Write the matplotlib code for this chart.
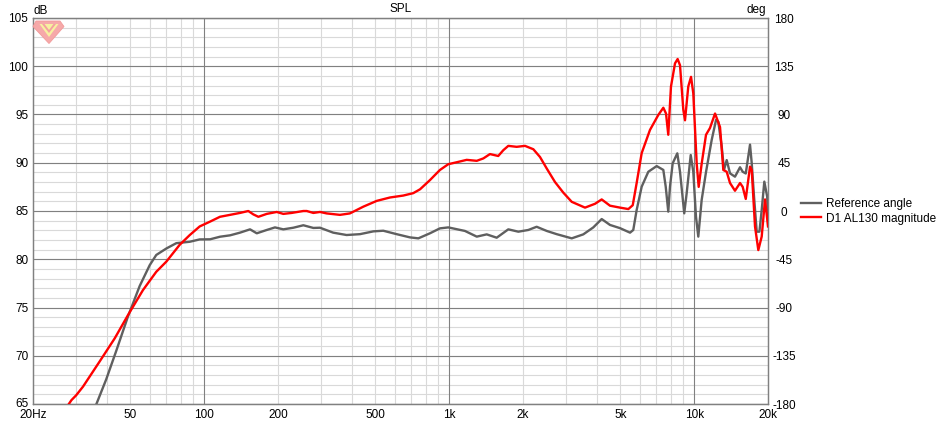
import matplotlib
matplotlib.use('Agg')
import matplotlib.pyplot as plt
from matplotlib.patches import Polygon
from matplotlib.transforms import ScaledTranslation

plt.rcParams['font.family'] = ['Liberation Sans', 'DejaVu Sans']

# ---------------- data ----------------
red_freq = [27.0, 28.7, 30.0, 32.0, 37.4, 43.1, 48.8, 56.2, 63.7, 70.0, 79.4, 87.2, 95.8,
            105.6, 115.9, 127.4, 139.9, 151.3, 158.6, 166.3, 179.9, 197.6, 210.2, 227.4,
            253.8, 262, 278.8, 296.8, 316, 358, 393, 446, 506, 573, 649, 713, 760, 834,
            916, 991, 1072, 1178, 1295, 1378, 1466, 1585, 1662, 1742, 1884, 2038, 2204,
            2346, 2500, 2702, 2922, 3162, 3582, 3937, 4190, 4530, 4978, 5382, 5610, 5820,
            6102, 6596, 7132, 7478, 7670, 7834, 8036, 8346, 8554, 8748, 9022, 9168, 9454,
            9702, 9910, 10234, 10426, 10722, 11170, 11594, 12158, 12742, 13142, 13566,
            13996, 14664, 15378, 15766, 16228, 16890, 17166, 17702, 18260, 18850, 19450,
            20000]
red_db = [64.4, 65.4, 65.9, 66.8, 69.4, 71.8, 74.2, 76.8, 78.7, 79.75, 81.5, 82.5, 83.4,
          83.9, 84.4, 84.6, 84.8, 85.0, 84.65, 84.4, 84.7, 84.9, 84.7, 84.8,
          85.0, 85.0, 84.8, 84.9, 84.75, 84.6, 84.75, 85.45, 86.05, 86.4, 86.6, 86.85, 87.25, 88.2,
          89.25, 89.85, 90.05, 90.3, 90.2, 90.45, 90.9, 90.7, 91.3, 91.75, 91.65, 91.75, 91.4,
          90.6, 89.4, 88.0, 86.9, 85.95, 85.35, 85.75, 86.2, 85.55, 85.35, 85.2, 85.6, 87.9,
          91.0, 93.4, 94.95, 95.7, 95.1, 92.9, 97.9, 100.3, 100.75, 100.1, 95.5, 94.4, 97.9,
          98.9, 97.2, 89.9, 87.5, 89.9, 92.9, 93.6, 95.1, 93.7, 89.25, 89.07,
          87.9, 87.1, 87.9, 87.5, 86.25, 89.6, 89.25, 83.4, 80.95, 82.35, 86.2,
          83.4]

gray_freq = [35.0, 36.3, 39.8, 43.8, 48.8, 54.5, 59.9, 63.7, 70.0, 76.9, 87.2, 95.8, 105.6,
             115.9, 127.4, 139.9, 153.8, 163.8, 179.9, 194.4, 210.2, 231, 253.8, 278.8,
             296.8, 336, 381, 432, 490, 538, 610, 691, 748, 834, 916, 991, 1159, 1295,
             1422, 1562, 1742, 1914, 2102, 2274, 2500, 2745, 3162, 3524, 3872, 4190, 4530,
             4978, 5469, 5638, 5820, 6102, 6494, 7026, 7478, 7648, 7834, 7962, 8166, 8528,
             8748, 9102, 9312, 9674, 9910, 10164, 10388, 10722, 11170, 11780, 12272, 12534,
             12948, 13226, 13566, 13996, 14664, 15378, 15766, 16228, 16890, 17166, 17540,
             17988, 18450, 18850, 19320, 19850, 20000]
gray_deg = [-186, -180, -157, -130, -98.5, -70, -50.5, -41, -35, -30, -28.7, -26.5, -26.4,
            -24, -22.7, -20.2, -17.1, -20.8, -17.7, -15.3, -17.1, -15.6, -13.3, -15.8,
            -15.6, -20.2, -22.4, -21.6, -19, -18.4, -21.6, -24.6, -25.5, -20.8, -16.2, -15.3, -18.6, -23.9,
            -21.8, -24.9, -17.1, -19.3, -17.7, -14.7, -18.6, -21.6, -25.5, -21.8, -15.3, -7.5, -13,
            -16, -20.2, -17.7, 0.9, 22.7, 36.6, 41.9, 38.3, 22.7, -0.6, 22.7, 44.5, 53.8,
            36.6, -2.2, 16.5, 52.2, 36.6, -5.3, -23.9, 10.3, 36.4, 66.2, 84.9, 83.3,
            60, 38.3, 47.5, 35.1, 32, 40.8, 36.6, 35, 61.9, 44.5, 13.3,
            -19.3, -19.3, 0.9, 27.4, 13.3, -8.4]

x_tick_vals = [20, 50, 100, 200, 500, 1000, 2000, 5000, 10000, 20000]
x_tick_labels = ['20Hz', '50', '100', '200', '500', '1k', '2k', '5k', '10k', '20k']
y_ticks_db = [65, 70, 75, 80, 85, 90, 95, 100, 105]
y_ticks_deg = [-180, -135, -90, -45, 0, 45, 90, 135, 180]

series_names = ['Reference angle', 'D1 AL130 magnitude']

# ---------------- figure ----------------
W, H = 937, 423
fig = plt.figure(figsize=(W / 100, H / 100), dpi=100)
L, R, T, B = 33, 768, 18, 404
ax = fig.add_axes([L / W, 1 - B / H, (R - L) / W, (B - T) / H])
ax2 = ax.twinx()
ax.set_zorder(2)
ax2.set_zorder(1)
ax.patch.set_visible(False)
ax2.patch.set_facecolor('white')

ax.set_xscale('log')
ax.set_xlim(20, 20000)
ax.set_ylim(65, 105)
ax2.set_ylim(-180, 180)

MINOR_C = '#d9d9d9'
MAJOR_C = '#808080'

# grid (drawn on the bottom axes so curves sit on top)
for dec in [10, 100, 1000, 10000]:
    for k in range(2, 10):
        f = dec * k
        if 20 < f < 20000:
            ax2.axvline(f, color=MINOR_C, lw=0.8, zorder=0)
for f in [100, 1000, 10000]:
    ax2.axvline(f, color=MAJOR_C, lw=0.8, zorder=0.5)
for d in range(-180, 181, 9):
    ax2.axhline(d, color=MINOR_C, lw=0.8, zorder=0)
for d in y_ticks_deg:
    ax2.axhline(d, color=MAJOR_C, lw=0.8, zorder=0.5)

g_line, = ax2.plot(gray_freq, gray_deg, color='#5f5f5f', lw=1.7, label=series_names[0],
                   solid_joinstyle='round', zorder=2)
r_line, = ax.plot(red_freq, red_db, color='#ff0000', lw=1.7, label=series_names[1],
                  solid_joinstyle='round', zorder=3)

# ticks
ax.set_xticks(x_tick_vals)
ax.set_xticklabels(x_tick_labels)
ax.xaxis.set_minor_locator(matplotlib.ticker.NullLocator())
ax.set_yticks(y_ticks_db)
ax.set_yticklabels([str(v) for v in y_ticks_db])
ax2.set_yticks(y_ticks_deg)
ax2.set_yticklabels([str(v) for v in y_ticks_deg])

FS = 8.5
ax.tick_params(axis='x', length=0, pad=3.8, labelsize=FS)
ax.tick_params(axis='y', length=0, pad=3.3, labelsize=FS)
ax2.tick_params(axis='y', length=0, pad=11.5, labelsize=FS)
for lbl in ax2.get_yticklabels():
    lbl.set_horizontalalignment('center')

# nudge the lowest left label up a little so it clears "20Hz"
lowest = ax.get_yticklabels()[0]
lowest.set_transform(lowest.get_transform() + ScaledTranslation(0, 2 / 100, fig.dpi_scale_trans))

for a in (ax, ax2):
    for s in a.spines.values():
        s.set_color(MAJOR_C)
        s.set_linewidth(0.9)

# titles
fig.text((L + R) / 2 / W, 1 - 8.5 / H, 'SPL', ha='center', va='center', fontsize=FS)
fig.text(34 / W, 1 - 10.5 / H, 'dB', ha='left', va='center', fontsize=FS)
fig.text(766 / W, 1 - 10.5 / H, 'deg', ha='right', va='center', fontsize=FS)

# legend
fig.legend(handles=[g_line, r_line], labels=series_names, loc='upper left',
           bbox_to_anchor=(801 / W, 1 - 198 / H), frameon=False, fontsize=FS,
           handlelength=1.7, handletextpad=0.45, labelspacing=0.22,
           borderaxespad=0, borderpad=0)

# watermark logo (decoration)
def px(pts):
    return [(x / W, 1 - y / H) for x, y in pts]

gem = Polygon(px([(36, 21), (60, 21), (64, 26.5), (49, 43.5), (33, 26.5)]),
              closed=True, transform=fig.transFigure, facecolor='#f6a9a9',
              edgecolor='#f29a9a', lw=0.6, zorder=10)
inner = Polygon(px([(39.5, 24), (58.5, 24), (49, 37)]), closed=True,
                transform=fig.transFigure, facecolor='#f7f0a0', edgecolor='none', zorder=11)
vee = Polygon(px([(42, 24), (49, 33), (56, 24), (53.5, 24), (49, 30), (44.5, 24)]), closed=True,
              transform=fig.transFigure, facecolor='#f4a0a0', edgecolor='none', zorder=12)
fig.patches.extend([gem, inner, vee])

fig.savefig('out.png', dpi=100)
